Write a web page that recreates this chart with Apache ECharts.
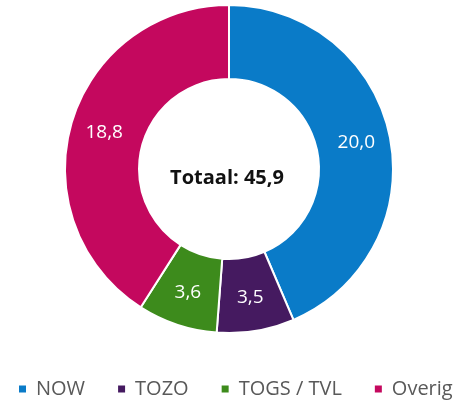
<!DOCTYPE html>
<html style="height: 100%">
<head>
    <meta charset="utf-8">
</head>
<body style="height: 100%; margin: 0; background: #fff">
    <div id="container" style="width: 454px; height: 402px"></div>
    <script src="https://cdn.jsdelivr.net/npm/echarts@6/dist/echarts.min.js"></script>
    <script type="text/javascript">
        var categories = ['NOW', 'TOZO', 'TOGS / TVL', 'Overig'];
        var values = [20.0, 3.5, 3.6, 18.8];
        var colors = ['#0a7bc8', '#451a60', '#3d8b1c', '#c4085e'];
        var totalText = 'Totaal: 45,9';

        var myChart = echarts.init(document.getElementById('container'));

        var pieData = [];
        for (var i = 0; i < categories.length; i++) {
            pieData.push({
                name: categories[i],
                value: values[i],
                itemStyle: { color: colors[i] }
            });
        }

        myChart.setOption({
            animation: false,
            backgroundColor: '#fff',
            title: {
                text: totalText,
                left: 222,
                top: 173,
                textAlign: 'center',
                textVerticalAlign: 'middle',
                textStyle: {
                    fontFamily: 'Open Sans',
                    fontWeight: 'bold',
                    fontSize: 20,
                    color: '#111'
                }
            },
            legend: {
                left: 17,
                top: 379,
                width: 800,
                padding: 0,
                icon: 'rect',
                itemWidth: 9,
                itemHeight: 9,
                itemGap: 31,
                textStyle: {
                    fontFamily: 'Open Sans',
                    fontSize: 20,
                    color: '#595959',
                    padding: [0, 0, 0, 4]
                },
                data: categories
            },
            series: [{
                type: 'pie',
                center: [229, 169],
                radius: [90, 164],
                startAngle: 90,
                clockwise: true,
                itemStyle: {
                    borderColor: '#fff',
                    borderWidth: 2
                },
                label: {
                    show: true,
                    position: 'inside',
                    formatter: function (p) {
                        return p.value.toFixed(1).replace('.', ',');
                    },
                    fontFamily: 'Open Sans',
                    fontSize: 19,
                    color: '#fff'
                },
                labelLine: { show: false },
                emphasis: { disabled: true },
                data: pieData
            }]
        });
    </script>
</body>
</html>
